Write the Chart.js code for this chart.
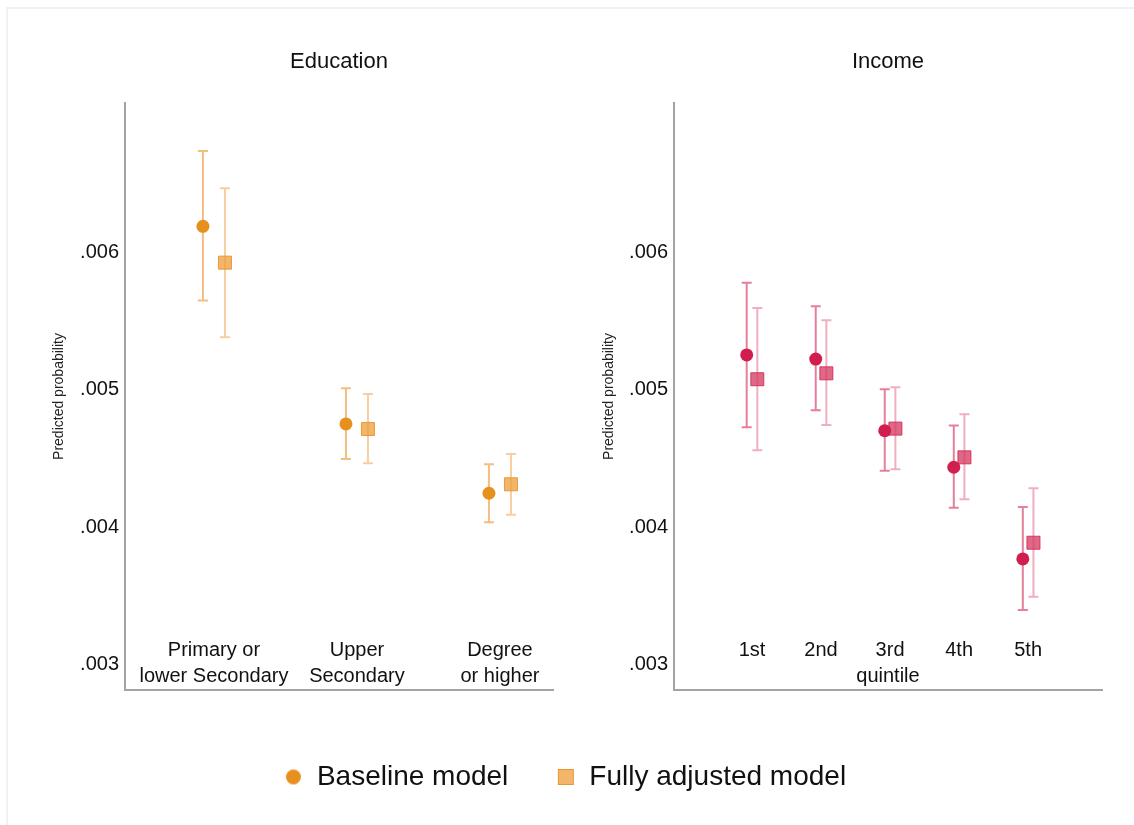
<!DOCTYPE html>
<html>
<head>
<meta charset="utf-8">
<script src="https://cdn.jsdelivr.net/npm/chart.js@4/dist/chart.umd.min.js"></script>
<style>
  html, body { margin: 0; padding: 0; background: #fff; }
  body { width: 1134px; height: 825px; position: relative; overflow: hidden; }
  .layer { position: absolute; left: 0; top: 0; width: 1134px; height: 825px; }
  .frame { position: absolute; left: 6px; top: 7px; right: -4px; bottom: -4px;
           border-top: 2px solid #eef2f4; border-left: 2px solid #eef2f4; }
</style>
</head>
<body>
<div class="frame"></div>
<div class="layer"><canvas id="edu" width="1134" height="825"></canvas></div>
<div class="layer"><canvas id="inc" width="1134" height="825"></canvas></div>
<script>
// ---------------- data ----------------
const eduCategories = [['Primary or', 'lower Secondary'], ['Upper', 'Secondary'], ['Degree', 'or higher']];
const eduBase   = [0.006190, 0.004753, 0.004249];
const eduBaseLo = [0.005650, 0.004498, 0.004038];
const eduBaseHi = [0.006738, 0.005012, 0.004459];
const eduAdj    = [0.005926, 0.004716, 0.004314];
const eduAdjLo  = [0.005383, 0.004467, 0.004093];
const eduAdjHi  = [0.006467, 0.004971, 0.004535];

const incCategories = ['1st', '2nd', '3rd', '4th', '5th'];
const incBase   = [0.005255, 0.005225, 0.004704, 0.004438, 0.003771];
const incBaseLo = [0.004729, 0.004852, 0.004413, 0.004144, 0.003400];
const incBaseHi = [0.005780, 0.005609, 0.005005, 0.004741, 0.004149];
const incAdj    = [0.005078, 0.005121, 0.004719, 0.004510, 0.003889];
const incAdjLo  = [0.004561, 0.004745, 0.004423, 0.004205, 0.003497];
const incAdjHi  = [0.005596, 0.005507, 0.005019, 0.004823, 0.004285];

const yTicks = [0.003, 0.004, 0.005, 0.006];
const yTickLabels = ['.003', '.004', '.005', '.006'];
const seriesNames = ['Baseline model', 'Fully adjusted model'];
const panelTitles = ['Education', 'Income'];
const yTitle = 'Predicted probability';
const incXTitle = 'quintile';

// ---------------- styling ----------------
Chart.defaults.font.family = '"Liberation Sans", Arial, sans-serif';
Chart.defaults.color = '#111';
Chart.defaults.animation = false;

const SHIFT = 0.077;
const Y_MIN = 0.002818, Y_MAX = 0.007087;
const AXIS_COL = '#a3a3a3';
const PLOT_BOTTOM = 690;
const LEGEND_BOTTOM_PAD = 24;

const orange = { base: '#e8901e', adjFill: 'rgba(238,160,64,0.78)', adjBorder: 'rgba(232,148,44,0.9)',
                 errBase: 'rgba(238,150,50,0.62)', errAdj: 'rgba(240,165,80,0.55)' };
const red = { base: '#d01f4e', adjFill: 'rgba(214,62,100,0.78)', adjBorder: 'rgba(208,40,84,0.85)',
              errBase: 'rgba(214,50,90,0.62)', errAdj: 'rgba(226,110,140,0.55)' };

const errorBars = {
  id: 'errorBars',
  beforeDatasetsDraw(chart) {
    const { ctx } = chart;
    const x = chart.scales.x, y = chart.scales.y;
    chart.data.datasets.forEach((ds, i) => {
      if (!chart.isDatasetVisible(i) || !ds.lo) return;
      ctx.save();
      ctx.strokeStyle = ds.errColor;
      ctx.lineWidth = 2;
      ds.data.forEach((p, j) => {
        const px = x.getPixelForValue(p.x);
        const top = y.getPixelForValue(ds.hi[j]);
        const bot = y.getPixelForValue(ds.lo[j]);
        ctx.beginPath();
        ctx.moveTo(px, top); ctx.lineTo(px, bot);
        ctx.moveTo(px - 5, top); ctx.lineTo(px + 5, top);
        ctx.moveTo(px - 5, bot); ctx.lineTo(px + 5, bot);
        ctx.stroke();
      });
      ctx.restore();
    });
  }
};

function makeDatasets(base, baseLo, baseHi, adj, adjLo, adjHi, col) {
  return [
    { label: seriesNames[0], data: base.map((v, i) => ({ x: i - SHIFT, y: v })), lo: baseLo, hi: baseHi,
      pointStyle: 'circle', pointRadius: 6.5, backgroundColor: col.base, borderColor: col.base, borderWidth: 0,
      errColor: col.errBase, showLine: false },
    { label: seriesNames[1], data: adj.map((v, i) => ({ x: i + SHIFT, y: v })), lo: adjLo, hi: adjHi,
      pointStyle: 'rect', pointRadius: 9.2, backgroundColor: col.adjFill, borderColor: col.adjBorder, borderWidth: 1,
      errColor: col.errAdj, showLine: false }
  ];
}

function marker(style, fill, stroke, size) {
  const c = document.createElement('canvas');
  c.width = size + 2; c.height = size + 2;
  const g = c.getContext('2d');
  g.fillStyle = fill; g.strokeStyle = stroke; g.lineWidth = 1;
  if (style === 'circle') {
    g.beginPath(); g.arc(c.width / 2, c.height / 2, size / 2, 0, Math.PI * 2); g.fill();
  } else {
    g.fillRect(1, 1, size, size); g.strokeRect(1.5, 1.5, size - 1, size - 1);
  }
  return c;
}
const legendMarkers = [marker('circle', orange.base, orange.base, 15), marker('rect', orange.adjFill, orange.adjBorder, 16)];

function yScale(width, titlePad) {
  return {
    type: 'linear', position: 'left', min: Y_MIN, max: Y_MAX,
    afterBuildTicks: s => { s.ticks = yTicks.map(v => ({ value: v })); },
    afterFit: s => { s.width = width; },
    grid: { display: false, drawTicks: false, tickLength: 0 },
    border: { display: true, color: AXIS_COL, width: 2 },
    ticks: { padding: 6, font: { size: 20 }, color: '#111',
             callback: v => { const k = yTicks.findIndex(t => Math.abs(t - v) < 1e-9); return k >= 0 ? yTickLabels[k] : ''; } },
    title: { display: true, text: yTitle, font: { size: 14 }, color: '#222', padding: { top: titlePad, bottom: 0 } }
  };
}

function xScale(cats, min, max, heightFn, title) {
  const sc = {
    type: 'linear', position: 'bottom', min: min, max: max,
    afterBuildTicks: s => { s.ticks = cats.map((c, i) => ({ value: i })); },
    afterFit: s => { s.height = heightFn(s); },
    grid: { display: false, drawTicks: false, tickLength: 0 },
    border: { display: true, color: AXIS_COL, width: 2 },
    ticks: { mirror: true, padding: 27, maxRotation: 0, autoSkip: false,
             font: { size: 20, lineHeight: '26px' }, color: '#111',
             callback: v => cats[Math.round(v)] }
  };
  if (title) {
    sc.title = { display: true, text: title, font: { size: 20 }, color: '#111', padding: { top: 0, bottom: 137 } };
  }
  return sc;
}

function titleOpts(text) {
  return { display: true, text: text, fullSize: false, font: { size: 22, weight: 'normal' }, color: '#111',
           padding: { top: 48.8, bottom: 27.8 } };
}

// ---------------- Education panel (also carries the shared legend) ----------------
new Chart(document.getElementById('edu'), {
  type: 'scatter',
  data: { datasets: makeDatasets(eduBase, eduBaseLo, eduBaseHi, eduAdj, eduAdjLo, eduAdjHi, orange) },
  options: {
    responsive: false, devicePixelRatio: 1,
    layout: { padding: { left: 0, right: 4, top: 0, bottom: LEGEND_BOTTOM_PAD } },
    scales: {
      x: xScale(eduCategories, -0.622, 2.371,
                s => Math.max(1, 825 - LEGEND_BOTTOM_PAD - s.chart.legend.height - PLOT_BOTTOM)),
      y: yScale(125, 50.6),
      spacer: { type: 'linear', position: 'right', display: true,
                afterFit: s => { s.width = 1134 - 4 - 553; },
                grid: { display: false, drawTicks: false }, border: { display: false }, ticks: { display: false } }
    },
    plugins: {
      title: titleOpts(panelTitles[0]),
      tooltip: { enabled: false },
      legend: {
        display: true, position: 'bottom',
        labels: {
          usePointStyle: true, boxWidth: 19, boxHeight: 19, padding: 48, font: { size: 28 }, color: '#111',
          generateLabels: chart => Chart.defaults.plugins.legend.labels.generateLabels(chart)
            .map((l, i) => Object.assign(l, { pointStyle: legendMarkers[i] }))
        }
      }
    }
  },
  plugins: [errorBars]
});

// ---------------- Income panel ----------------
new Chart(document.getElementById('inc'), {
  type: 'scatter',
  data: { datasets: makeDatasets(incBase, incBaseLo, incBaseHi, incAdj, incAdjLo, incAdjHi, red) },
  options: {
    responsive: false, devicePixelRatio: 1,
    layout: { padding: { left: 0, right: 32, top: 0, bottom: 0 } },
    scales: {
      x: xScale(incCategories, -1.13, 5.07, s => 825 - PLOT_BOTTOM, incXTitle),
      y: yScale(674, 600.6)
    },
    plugins: {
      title: titleOpts(panelTitles[1]),
      tooltip: { enabled: false },
      legend: { display: false }
    }
  },
  plugins: [errorBars]
});
</script>
</body>
</html>
